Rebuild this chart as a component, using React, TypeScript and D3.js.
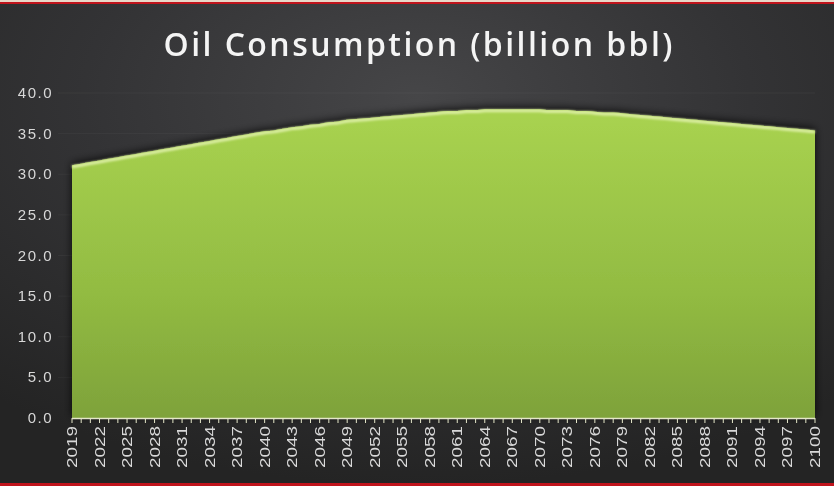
import React, { useEffect, useRef } from 'react';
import * as d3 from 'd3';

// Oil consumption by year, billion bbl
const years: number[] = d3.range(2019, 2101);
const consumption: number[] = [
  31.1, 31.3, 31.5, 31.7, 31.9, 32.1, 32.3, 32.5, 32.7, 32.9, // 2019-2028
  33.1, 33.3, 33.5, 33.7, 33.9, 34.1, 34.3, 34.5, 34.7, 34.9, // 2029-2038
  35.1, 35.3, 35.4, 35.6, 35.8, 35.9, 36.1, 36.2, 36.4, 36.5, // 2039-2048
  36.7, 36.8, 36.9, 37.0, 37.1, 37.2, 37.3, 37.4, 37.5, 37.6, // 2049-2058
  37.7, 37.8, 37.8, 37.9, 37.9, 38.0, 38.0, 38.0, 38.0, 38.0, // 2059-2068
  38.0, 38.0, 37.9, 37.9, 37.9, 37.8, 37.8, 37.7, 37.6, 37.6, // 2069-2078
  37.5, 37.4, 37.3, 37.2, 37.1, 37.0, 36.9, 36.8, 36.7, 36.6, // 2079-2088
  36.5, 36.4, 36.3, 36.2, 36.1, 36.0, 35.9, 35.8, 35.7, 35.6, // 2089-2098
  35.5, 35.4, // 2099-2100
];
const yTicks: number[] = [0, 5, 10, 15, 20, 25, 30, 35, 40];
const labelYears: number[] = years.filter((y) => (y - 2019) % 3 === 0);

const title = 'Oil Consumption (billion bbl)';

const W = 834;
const H = 486;

export default function App() {
  const svgRef = useRef<SVGSVGElement>(null);

  useEffect(() => {
    if (!svgRef.current) return;
    const svg = d3.select(svgRef.current);
    svg.selectAll('*').remove();

    const defs = svg.append('defs');

    // background: dark with a soft lighter glow up top
    const bg = defs.append('radialGradient').attr('id', 'bg')
      .attr('cx', '50%').attr('cy', '20%').attr('r', '80%');
    bg.append('stop').attr('offset', '0%').attr('stop-color', '#464648');
    bg.append('stop').attr('offset', '50%').attr('stop-color', '#333335');
    bg.append('stop').attr('offset', '100%').attr('stop-color', '#242424');

    const fillGrad = defs.append('linearGradient').attr('id', 'areaFill')
      .attr('x1', 0).attr('y1', 0).attr('x2', 0).attr('y2', 1);
    fillGrad.append('stop').attr('offset', '0%').attr('stop-color', '#a9d350');
    fillGrad.append('stop').attr('offset', '60%').attr('stop-color', '#92bb42');
    fillGrad.append('stop').attr('offset', '100%').attr('stop-color', '#7ea23a');

    const shadow = defs.append('filter').attr('id', 'shadow')
      .attr('x', '-5%').attr('y', '-10%').attr('width', '110%').attr('height', '120%');
    shadow.append('feDropShadow')
      .attr('dx', 0).attr('dy', -2)
      .attr('stdDeviation', 4)
      .attr('flood-color', '#000')
      .attr('flood-opacity', 0.8);

    const soft = defs.append('filter').attr('id', 'soft');
    soft.append('feGaussianBlur').attr('stdDeviation', 0.8);

    svg.append('rect').attr('width', W).attr('height', H).attr('fill', 'url(#bg)');

    // frame lines top and bottom
    svg.append('rect').attr('x', 0).attr('y', 0).attr('width', W).attr('height', 2).attr('fill', '#e8d8c8');
    svg.append('rect').attr('x', 0).attr('y', 2).attr('width', W).attr('height', 2).attr('fill', '#c0141c');
    svg.append('rect').attr('x', 0).attr('y', H - 3).attr('width', W).attr('height', 3).attr('fill', '#c0141c');

    const x = d3.scalePoint<number>().domain(years).range([72, 815]).padding(0);
    const y = d3.scaleLinear().domain([0, 40]).range([418, 93]);

    // faint gridlines
    svg.append('g')
      .selectAll('line')
      .data(yTicks.filter((t) => t > 0))
      .join('line')
      .attr('x1', 58).attr('x2', 815)
      .attr('y1', (d) => y(d)).attr('y2', (d) => y(d))
      .attr('stroke', '#ffffff')
      .attr('stroke-opacity', 0.04);

    const pts = years.map((yr, i) => ({ yr, v: consumption[i] }));

    const area = d3.area<{ yr: number; v: number }>()
      .x((d) => x(d.yr) as number)
      .y0(y(0))
      .y1((d) => y(d.v))
      .curve(d3.curveMonotoneX);

    const line = d3.line<{ yr: number; v: number }>()
      .x((d) => x(d.yr) as number)
      .y((d) => y(d.v))
      .curve(d3.curveMonotoneX);

    svg.append('path')
      .datum(pts)
      .attr('d', area)
      .attr('fill', 'url(#areaFill)')
      .attr('filter', 'url(#shadow)');

    // bright bevel along top edge
    svg.append('path')
      .datum(pts)
      .attr('d', line)
      .attr('transform', 'translate(0,1.5)')
      .attr('fill', 'none')
      .attr('stroke', '#e2f2ae')
      .attr('stroke-width', 3)
      .attr('stroke-opacity', 0.9)
      .attr('filter', 'url(#soft)');

    // x axis line and ticks
    svg.append('line')
      .attr('x1', 72).attr('x2', 815)
      .attr('y1', y(0) + 0.5).attr('y2', y(0) + 0.5)
      .attr('stroke', '#e4e6c8').attr('stroke-width', 1.5);

    svg.append('g')
      .selectAll('line')
      .data(years)
      .join('line')
      .attr('x1', (d) => x(d) as number).attr('x2', (d) => x(d) as number)
      .attr('y1', y(0)).attr('y2', y(0) + 5)
      .attr('stroke', '#e4e6c8').attr('stroke-width', 1);

    // x labels, rotated
    svg.append('g')
      .selectAll('text')
      .data(labelYears)
      .join('text')
      .attr('transform', (d) => `translate(${(x(d) as number) + 5},426) rotate(-90)`)
      .attr('text-anchor', 'end')
      .attr('font-family', '"Liberation Sans Narrow", "Liberation Sans", sans-serif')
      .attr('font-size', 14)
      .attr('textLength', 42)
      .attr('lengthAdjust', 'spacingAndGlyphs')
      .attr('fill', '#d8d8d8')
      .text((d) => String(d));

    // y labels
    svg.append('g')
      .selectAll('text')
      .data(yTicks)
      .join('text')
      .attr('x', 53)
      .attr('y', (d) => y(d) + 5)
      .attr('text-anchor', 'end')
      .attr('font-family', '"Liberation Sans Narrow", "Liberation Sans", sans-serif')
      .attr('font-size', 15)
      .attr('letter-spacing', 1.5)
      .attr('fill', '#d8d8d8')
      .text((d) => d3.format('.1f')(d));

    // title
    svg.append('text')
      .attr('x', 418)
      .attr('y', 56)
      .attr('text-anchor', 'middle')
      .attr('font-family', '"Open Sans", "DejaVu Sans", sans-serif')
      .attr('font-weight', 600)
      .attr('font-size', 32)
      .attr('textLength', 509)
      .attr('lengthAdjust', 'spacing')
      .attr('fill', '#f4f4f4')
      .text(title);
  }, []);

  return (
    <div style={{ position: 'fixed', left: 0, top: 0 }}>
      <svg ref={svgRef} width={W} height={H} viewBox={`0 0 ${W} ${H}`} style={{ display: 'block' }} />
    </div>
  );
}
